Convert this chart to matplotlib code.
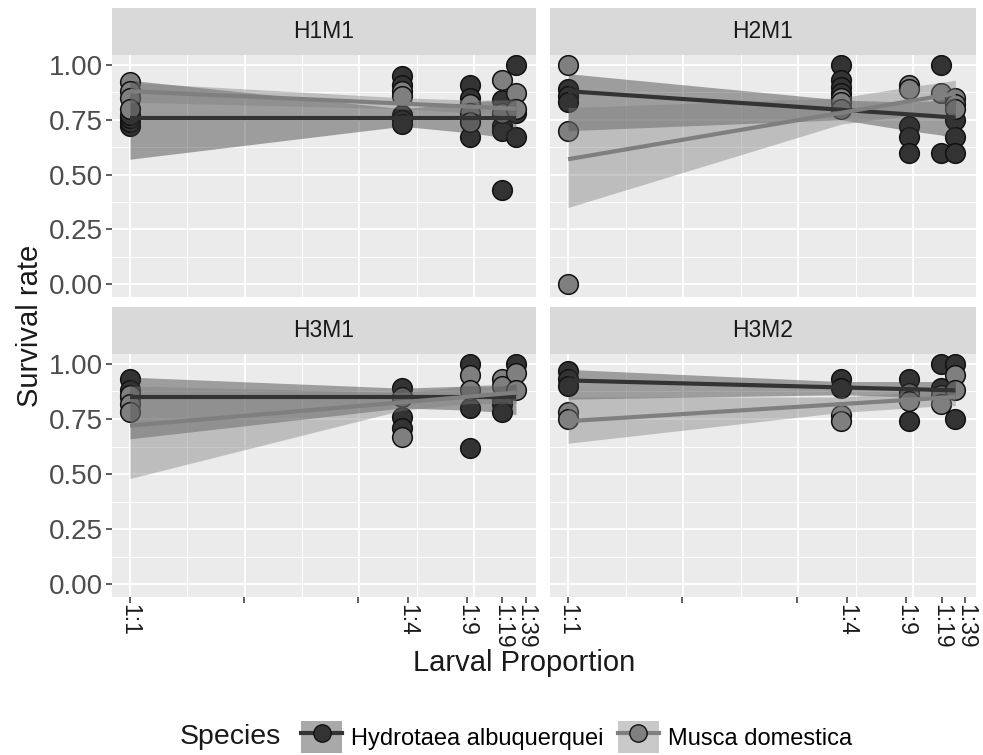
import numpy as np
import matplotlib.pyplot as plt
from matplotlib.lines import Line2D
from matplotlib.patches import Patch

plt.rcParams['font.family'] = ['Liberation Sans', 'DejaVu Sans']

# ---- data ----
proportions = ['1:1', '1:4', '1:9', '1:19', '1:39']
prop_x = [0.0, 0.705, 0.881, 0.964, 1.0]          # position of each group on the x axis
tick_x = [0.0, 0.295, 0.59, 0.72, 0.873, 0.965, 1.026]
tick_labels = ['1:1', '', '', '1:4', '1:9', '1:19', '1:39']

panels = ['H1M1', 'H2M1', 'H3M1', 'H3M2']
species = ['Hydrotaea albuquerquei', 'Musca domestica']

# survival per replicate, one list per proportion
h1m1_hyd = [[0.72, 0.74, 0.76, 0.77], [0.95, 0.91, 0.77, 0.75, 0.73], [0.91, 0.85, 0.67], [0.84, 0.72, 0.70, 0.43], [1.00, 0.78, 0.67]]
h1m1_mus = [[0.92, 0.88, 0.85, 0.80], [0.88, 0.86], [0.82, 0.78, 0.74], [0.93, 0.78], [0.87, 0.80]]
h2m1_hyd = [[0.89, 0.86, 0.83], [1.00, 0.93, 0.90, 0.87], [0.72, 0.67, 0.60], [1.00, 0.60], [0.75, 0.67, 0.60]]
h2m1_mus = [[1.00, 0.70, 0.00], [0.85, 0.83, 0.80], [0.91, 0.89], [0.87], [0.85, 0.82, 0.80]]
h3m1_hyd = [[0.93, 0.88, 0.85], [0.89, 0.76, 0.71], [1.00, 0.80, 0.62], [0.84, 0.82, 0.78], [1.00]]
h3m1_mus = [[0.86, 0.82, 0.78], [0.85, 0.67], [0.95, 0.88], [0.93, 0.90], [0.96, 0.88]]
h3m2_hyd = [[0.97, 0.93, 0.90], [0.93, 0.89], [0.93, 0.85, 0.74], [1.00, 0.89], [1.00, 0.75]]
h3m2_mus = [[0.78, 0.75], [0.77, 0.74], [0.87, 0.83], [0.86, 0.82], [0.95, 0.88]]

# fitted line (value at 1:1 and at 1:39) and its confidence band at each proportion
h1m1_hyd_fit = [0.76, 0.76]
h1m1_hyd_lo = [0.57, 0.72, 0.69, 0.67, 0.66]
h1m1_hyd_hi = [0.93, 0.80, 0.83, 0.84, 0.85]
h1m1_mus_fit = [0.88, 0.80]
h1m1_mus_lo = [0.83, 0.80, 0.78, 0.77, 0.76]
h1m1_mus_hi = [0.92, 0.85, 0.84, 0.84, 0.84]

h2m1_hyd_fit = [0.88, 0.76]
h2m1_hyd_lo = [0.70, 0.75, 0.70, 0.68, 0.66]
h2m1_hyd_hi = [0.96, 0.84, 0.83, 0.84, 0.85]
h2m1_mus_fit = [0.57, 0.87]
h2m1_mus_lo = [0.35, 0.73, 0.77, 0.78, 0.78]
h2m1_mus_hi = [0.805, 0.85, 0.90, 0.92, 0.93]

h3m1_hyd_fit = [0.85, 0.85]
h3m1_hyd_lo = [0.66, 0.80, 0.79, 0.78, 0.77]
h3m1_hyd_hi = [0.94, 0.89, 0.90, 0.90, 0.91]
h3m1_mus_fit = [0.72, 0.87]
h3m1_mus_lo = [0.48, 0.79, 0.82, 0.82, 0.82]
h3m1_mus_hi = [0.90, 0.87, 0.90, 0.91, 0.92]

h3m2_hyd_fit = [0.925, 0.88]
h3m2_hyd_lo = [0.84, 0.86, 0.85, 0.84, 0.84]
h3m2_hyd_hi = [0.975, 0.92, 0.92, 0.92, 0.92]
h3m2_mus_fit = [0.74, 0.85]
h3m2_mus_lo = [0.64, 0.78, 0.80, 0.81, 0.81]
h3m2_mus_hi = [0.85, 0.85, 0.87, 0.88, 0.89]

points = {
    'H1M1': (h1m1_hyd, h1m1_mus), 'H2M1': (h2m1_hyd, h2m1_mus),
    'H3M1': (h3m1_hyd, h3m1_mus), 'H3M2': (h3m2_hyd, h3m2_mus),
}
fits = {
    'H1M1': ((h1m1_hyd_fit, h1m1_hyd_lo, h1m1_hyd_hi), (h1m1_mus_fit, h1m1_mus_lo, h1m1_mus_hi)),
    'H2M1': ((h2m1_hyd_fit, h2m1_hyd_lo, h2m1_hyd_hi), (h2m1_mus_fit, h2m1_mus_lo, h2m1_mus_hi)),
    'H3M1': ((h3m1_hyd_fit, h3m1_hyd_lo, h3m1_hyd_hi), (h3m1_mus_fit, h3m1_mus_lo, h3m1_mus_hi)),
    'H3M2': ((h3m2_hyd_fit, h3m2_hyd_lo, h3m2_hyd_hi), (h3m2_mus_fit, h3m2_mus_lo, h3m2_mus_hi)),
}

# ---- style ----
sp_colors = ['#333333', '#7f7f7f']
band_alpha = 0.42
panel_bg = '#EBEBEB'
strip_bg = '#D9D9D9'

W, H = 983, 755
fig = plt.figure(figsize=(W / 100, H / 100), dpi=100)
fig.patch.set_facecolor('white')

# pixel boxes (left, right, top, bottom) for each panel
cols = [(111.5, 536), (549.5, 975.5)]
rows = [(55, 297), (354, 597)]
strip_h = 47

major_x = [0.0, 0.297, 0.594, 0.891]
minor_x = [0.1485, 0.4455, 0.7425]

for i, name in enumerate(panels):
    (x0, x1), (y0, y1) = cols[i % 2], rows[i // 2]
    ax = fig.add_axes([x0 / W, 1 - y1 / H, (x1 - x0) / W, (y1 - y0) / H])
    ax.set_facecolor(panel_bg)
    ax.set_xlim(-0.048, 1.052)
    ax.set_ylim(-0.058, 1.045)

    for gx in major_x:
        ax.axvline(gx, color='white', lw=1.3, zorder=0)
    for gx in minor_x:
        ax.axvline(gx, color='white', lw=0.7, zorder=0)
    for gy in [0, 0.25, 0.5, 0.75, 1.0]:
        ax.axhline(gy, color='white', lw=1.3, zorder=0)
    for gy in [0.125, 0.375, 0.625, 0.875]:
        ax.axhline(gy, color='white', lw=0.7, zorder=0)

    # points first, smooth on top (as in the original)
    for s, groups in enumerate(points[name]):
        for px, vals in zip(prop_x, groups):
            ax.scatter([px] * len(vals), vals, s=200, color=sp_colors[s],
                       edgecolor='#111111', linewidth=1.1, zorder=2)

    for s, (fit, lo, hi) in enumerate(fits[name]):
        ax.fill_between(prop_x, lo, hi, color=sp_colors[s], alpha=band_alpha,
                        linewidth=0, zorder=3)
        ax.plot([prop_x[0], prop_x[-1]], fit, color=sp_colors[s], lw=3.0,
                solid_capstyle='butt', zorder=4)

    for sp in ax.spines.values():
        sp.set_visible(False)

    ax.tick_params(axis='both', length=4, width=1.1, color='#333333',
                   labelcolor='#4D4D4D')
    ax.set_yticks([0, 0.25, 0.5, 0.75, 1.0])
    if i % 2 == 0:
        ax.set_yticklabels(['0.00', '0.25', '0.50', '0.75', '1.00'], fontsize=20)
        ax.tick_params(axis='y', pad=2)
    else:
        ax.set_yticklabels([])
        ax.tick_params(axis='y', length=0)
    if i // 2 == 1:
        ax.set_xticks(tick_x)
        ax.set_xticklabels(tick_labels, rotation=270, fontsize=16.5,
                           ha='center', va='top', color='#1a1a1a')
        ax.tick_params(axis='x', pad=1)
    else:
        ax.set_xticks([])

    # facet strip
    sax = fig.add_axes([x0 / W, 1 - y0 / H, (x1 - x0) / W, strip_h / H])
    sax.set_facecolor(strip_bg)
    sax.set_xticks([])
    sax.set_yticks([])
    for sp in sax.spines.values():
        sp.set_visible(False)
    sax.text(0.5, 0.5, name, ha='center', va='center', fontsize=16.5,
             color='#1A1A1A', transform=sax.transAxes)

fig.text(30 / W, 1 - 326 / H, 'Survival rate', rotation=90, ha='center',
         va='center', fontsize=21, color='#1a1a1a')
fig.text(524 / W, 1 - 663 / H, 'Larval Proportion', ha='center', va='center',
         fontsize=21, color='#1a1a1a')

# legend
fig.text(230 / W, 1 - 737 / H, 'Species', ha='center', va='center', fontsize=20.5,
         color='#1a1a1a')
handles = []
for c in sp_colors:
    handles.append((Patch(facecolor=c, alpha=band_alpha, edgecolor='none'),
                    Line2D([], [], color=c, lw=3.0, marker='o', markersize=12.5,
                           markerfacecolor=c, markeredgecolor='#111111')))
leg = fig.legend(handles, species, loc='center left', bbox_to_anchor=(280 / W, 1 - 737 / H),
                 ncol=2, frameon=False, fontsize=17, handlelength=1.72,
                 handleheight=1.72, handletextpad=0.4, columnspacing=0.6)

fig.savefig('out.png', dpi=100)
